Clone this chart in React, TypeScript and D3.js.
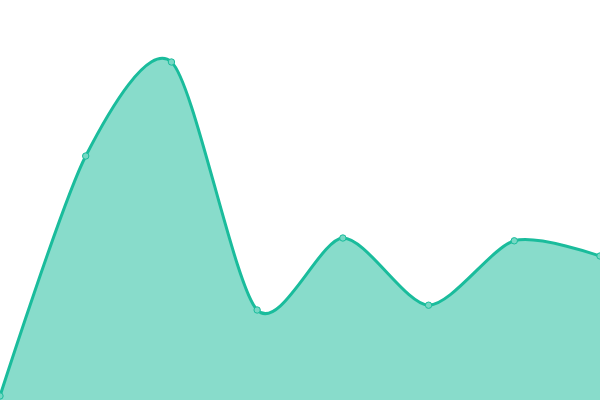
import React from "react";
import * as d3 from "d3";

const categories = ["A", "B", "C", "D", "E", "F", "G", "H"];
const values = [1, 61, 84.5, 22.5, 40.5, 23.7, 39.8, 36];

const W = 600;
const H = 400;

export default function App() {
  const x = d3.scalePoint<string>().domain(categories).range([0, W]);
  const y = d3.scaleLinear().domain([0, 100]).range([H, 0]);
  const curve = d3.curveCardinal.tension(0.2);
  const pts = categories.map((c, i) => ({ c, v: values[i] }));
  const area = d3
    .area<{ c: string; v: number }>()
    .x((d) => x(d.c)!)
    .y0(H)
    .y1((d) => y(d.v))
    .curve(curve);
  const line = d3
    .line<{ c: string; v: number }>()
    .x((d) => x(d.c)!)
    .y((d) => y(d.v))
    .curve(curve);
  return (
    <svg
      width={W}
      height={H}
      style={{ position: "absolute", left: 0, top: 0, background: "#fff" }}
    >
      <path d={area(pts)!} fill="#1abc9c" fillOpacity={0.52} />
      <path d={line(pts)!} fill="none" stroke="#1abc9c" strokeWidth={3} />
      {pts.map((d) => (
        <circle
          key={d.c}
          cx={x(d.c)!}
          cy={y(d.v)}
          r={3.2}
          fill="#76d8c4"
          stroke="#1abc9c"
          strokeWidth={1}
        />
      ))}
    </svg>
  );
}
